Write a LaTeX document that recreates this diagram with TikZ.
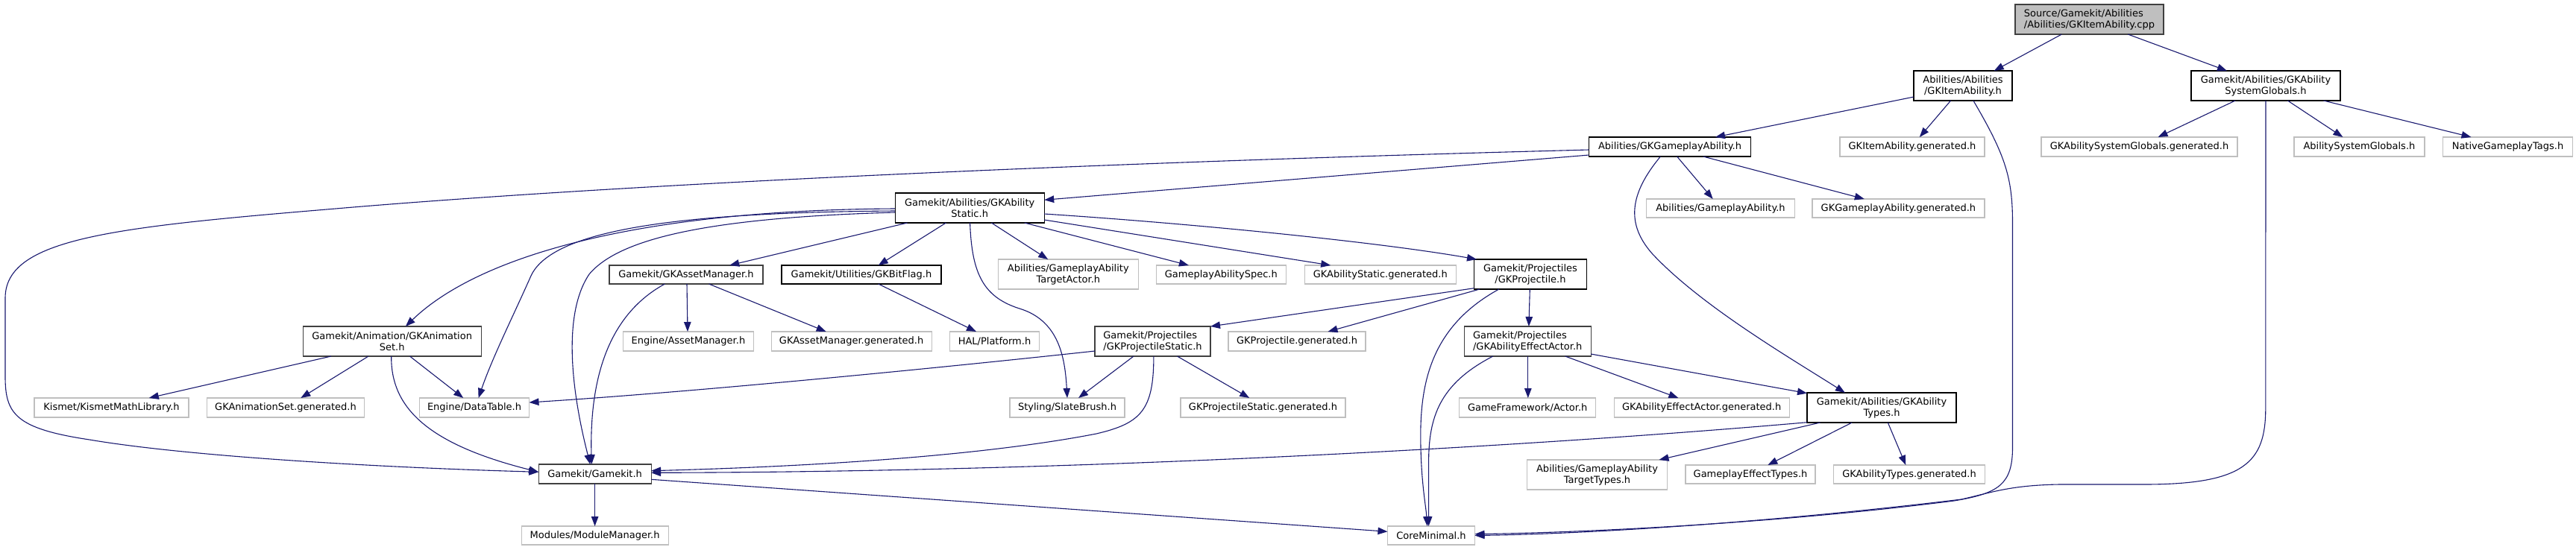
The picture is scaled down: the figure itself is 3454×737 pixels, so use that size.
\documentclass[tikz,border=0pt]{standalone}
\usepackage{fontspec}
\setmainfont{DejaVu Sans}
\usetikzlibrary{arrows.meta,calc}
\definecolor{edgeblue}{HTML}{191970}
\definecolor{extgray}{HTML}{BFBFBF}
\definecolor{docgray}{HTML}{404040}
\definecolor{rootfill}{HTML}{BFBFBF}
\tikzset{
  box/.style={rectangle, draw, line width=1.15pt, fill=white, inner sep=0pt, align=center, text=black,
    font=\fontsize{13pt}{15pt}\selectfont},
  doc/.style={box, draw=black},
  docg/.style={box, draw=docgray},
  ext/.style={box, draw=extgray},
  rootbox/.style={box, draw=docgray, fill=rootfill},
  one/.style={minimum height=26pt},
  two/.style={minimum height=40pt},
  e/.style={draw=edgeblue, line width=1.1pt, -{Triangle[length=13pt,width=9.5pt]}}
}
\begin{document}
\begin{tikzpicture}[x=1pt,y=-1pt]
\useasboundingbox (0,0) rectangle (3454,737);
\fill[white] (0,0) rectangle (3454,737);

% nodes
\node[rootbox, two, minimum width=199pt, align=left] (src) at (2801.5,26) {Source/Gamekit/Abilities\\/Abilities/GKItemAbility.cpp};
\node[doc, two, minimum width=132pt] (item) at (2632,115) {Abilities/Abilities\\/GKItemAbility.h};
\node[doc, two, minimum width=200pt] (sysg) at (3038,115) {Gamekit/Abilities/GKAbility\\SystemGlobals.h};
\node[doc, one, minimum width=217pt] (gpa) at (2239,197) {Abilities/GKGameplayAbility.h};
\node[ext, one, minimum width=194pt] (itemgen) at (2564,197) {GKItemAbility.generated.h};
\node[ext, one, minimum width=263pt] (sysggen) at (2868.5,197) {GKAbilitySystemGlobals.generated.h};
\node[ext, one, minimum width=175pt] (asg) at (3163.4,197) {AbilitySystemGlobals.h};
\node[ext, one, minimum width=174pt] (ngt) at (3362.5,197) {NativeGameplayTags.h};
\node[doc, two, minimum width=200pt] (stat) at (1300.2,279) {Gamekit/Abilities/GKAbility\\Static.h};
\node[ext, minimum height=25pt, minimum width=199pt] (ga) at (2307,279.5) {Abilities/GameplayAbility.h};
\node[ext, minimum height=25pt, minimum width=231pt] (gpagen) at (2545.4,279.5) {GKGameplayAbility.generated.h};
\node[docg, minimum height=25pt, minimum width=206pt] (am) at (920,368.5) {Gamekit/GKAssetManager.h};
\node[doc, minimum height=25pt, minimum width=214pt] (bit) at (1155,368.5) {Gamekit/Utilities/GKBitFlag.h};
\node[ext, two, minimum width=188pt] (ta) at (1432.3,368) {Abilities/GameplayAbility\\TargetActor.h};
\node[ext, minimum height=25pt, minimum width=174pt] (spec) at (1637.3,368.5) {GameplayAbilitySpec.h};
\node[ext, minimum height=25pt, minimum width=203pt] (statgen) at (1850.8,368.5) {GKAbilityStatic.generated.h};
\node[doc, two, minimum width=151pt] (proj) at (2052,368) {Gamekit/Projectiles\\/GKProjectile.h};
\node[docg, two, minimum width=239pt] (anim) at (525.7,458) {Gamekit/Animation/GKAnimation\\Set.h};
\node[ext, one, minimum width=175pt] (eam) at (922.9,458) {Engine/AssetManager.h};
\node[ext, one, minimum width=215pt] (amgen) at (1141.6,458) {GKAssetManager.generated.h};
\node[ext, one, minimum width=120pt] (hal) at (1333.5,458) {HAL/Platform.h};
\node[docg, two, minimum width=155pt, align=left] (pstat) at (1545.5,458) {Gamekit/Projectiles\\/GKProjectileStatic.h};
\node[ext, one, minimum width=184pt] (projgen) at (1739,458) {GKProjectile.generated.h};
\node[docg, two, minimum width=170pt, align=left] (eff) at (2048.2,458) {Gamekit/Projectiles\\/GKAbilityEffectActor.h};
\node[ext, one, minimum width=207pt] (kis) at (149.5,547) {Kismet/KismetMathLibrary.h};
\node[ext, one, minimum width=211pt] (animgen) at (383,547) {GKAnimationSet.generated.h};
\node[ext, one, minimum width=147pt] (dt) at (636,547) {Engine/DataTable.h};
\node[ext, one, minimum width=154pt] (sb) at (1431,547) {Styling/SlateBrush.h};
\node[ext, one, minimum width=221pt] (pstatgen) at (1693.5,547) {GKProjectileStatic.generated.h};
\node[ext, one, minimum width=183pt] (act) at (2048.2,547) {GameFramework/Actor.h};
\node[ext, one, minimum width=235pt] (effgen) at (2281.7,547) {GKAbilityEffectActor.generated.h};
\node[doc, two, minimum width=200pt] (types) at (2523,547) {Gamekit/Abilities/GKAbility\\Types.h};
\node[docg, one, minimum width=151pt] (gk) at (797.6,636) {Gamekit/Gamekit.h};
\node[ext, two, minimum width=188pt] (tt) at (2141.5,637) {Abilities/GameplayAbility\\TargetTypes.h};
\node[ext, minimum height=25pt, minimum width=174pt] (get) at (2347,636.5) {GameplayEffectTypes.h};
\node[ext, minimum height=25pt, minimum width=203pt] (typesgen) at (2560,636.5) {GKAbilityTypes.generated.h};
\node[ext, minimum height=25pt, minimum width=197pt] (mm) at (797.6,718.5) {Modules/ModuleManager.h};
\node[ext, minimum height=25pt, minimum width=117pt] (core) at (1919,718.5) {CoreMinimal.h};

% edges from root
\draw[e] ($(src)+(-37.1,20)$) -- ($(item)+(41.7,-20)$);
\draw[e] ($(src)+(51.7,20)$) -- ($(sysg)+(-52,-20)$);

% GKItemAbility.h
\draw[e] ($(item)+(-66,15)$) -- ($(gpa)+(61,-13)$);
\draw[e] ($(item)+(-16.4,20)$) -- ($(itemgen)+(9.8,-13)$);
\draw[e] ($(item)+(13.9,20)$) .. controls (2690,210) and (2698.5,240) .. (2698.5,300) -- (2698.5,600)
  .. controls (2698.5,650) and (2680,662) .. (2620,672)
  .. controls (2400,700) and (2150,714) .. ($(core)+(58.5,-1.8)$);

% SystemGlobals
\draw[e] ($(sysg)+(0,20)$) -- (3037.8,548) .. controls (3037.8,620) and (3010,650) .. (2875,650) -- (2762,650)
  .. controls (2695,651) and (2670,661) .. (2630,670)
  .. controls (2400,698) and (2150,716) .. ($(core)+(58.5,0)$);
\draw[e] ($(sysg)+(-40.9,20)$) -- ($(sysggen)+(25,-13)$);
\draw[e] ($(sysg)+(29.4,20)$) -- ($(asg)+(-22,-13)$);
\draw[e] ($(sysg)+(77.5,20)$) -- ($(ngt)+(-49,-13)$);

% GKGameplayAbility.h
\draw[e] ($(gpa)+(-108.5,4)$) .. controls (1400,220) and (800,250) .. (450,280)
  .. controls (150,305) and (7,320) .. (7,400) -- (7,505)
  .. controls (7,555) and (20,575) .. (120,590)
  .. controls (250,612) and (500,627) .. ($(gk)+(-75.5,-2.7)$);
\draw[e] ($(gpa)+(-108.5,11)$) -- ($(stat)+(100,-10.7)$);
\draw[e] ($(gpa)+(9.6,13)$) -- ($(ga)+(-10.3,-12.5)$);
\draw[e] ($(gpa)+(44.7,13)$) -- ($(gpagen)+(-45.6,-12.5)$);
\draw[e] ($(gpa)+(-12.6,13)$) .. controls (2185,260) and (2180,300) .. (2215,340)
  .. controls (2280,410) and (2400,480) .. ($(types)+(-49.1,-20)$);

% GKAbilityStatic.h
\draw[e] ($(stat)+(-100,1)$) .. controls (850,282) and (640,345) .. ($(anim)+(18.1,-20)$);
\draw[e] ($(stat)+(-100,4)$) .. controls (900,285) and (740,310) .. (712,370)
  .. controls (690,420) and (660,480) .. ($(dt)+(5.6,-13)$);
\draw[e] ($(stat)+(-100,6)$) .. controls (950,292) and (830,320) .. (790,368)
  .. controls (755,420) and (765,520) .. ($(gk)+(-6.2,-13)$);
\draw[e] ($(stat)+(-83.6,20)$) -- ($(am)+(58.2,-12.5)$);
\draw[e] ($(stat)+(-31.8,20)$) -- ($(bit)+(22.7,-12.5)$);
\draw[e] ($(stat)+(0.4,20)$) .. controls (1303,370) and (1320,400) .. (1370,415)
  .. controls (1420,432) and (1428,480) .. ($(sb)+(0,-13)$);
\draw[e] ($(stat)+(29.2,20)$) -- ($(ta)+(-27.1,-20)$);
\draw[e] ($(stat)+(73.6,20)$) -- ($(spec)+(-43.4,-12.5)$);
\draw[e] ($(stat)+(100,16)$) -- ($(statgen)+(-66.6,-12.5)$);
\draw[e] ($(stat)+(100,8)$) .. controls (1600,300) and (1850,325) .. ($(proj)+(-72,-20)$);

% GKAssetManager.h
\draw[e] ($(am)+(-28.6,12.5)$) .. controls (820,420) and (790,500) .. ($(gk)+(-4.3,-13)$);
\draw[e] ($(am)+(1,12.5)$) -- ($(eam)+(-0.9,-13)$);
\draw[e] ($(am)+(30.5,12.5)$) -- ($(amgen)+(-33.9,-13)$);

% GKBitFlag.h
\draw[e] ($(bit)+(22.7,12.5)$) -- ($(hal)+(-24.5,-13)$);

% GKAnimationSet.h
\draw[e] ($(anim)+(-81.7,20)$) -- ($(kis)+(50.3,-13)$);
\draw[e] ($(anim)+(-31.7,20)$) -- ($(animgen)+(20.3,-13)$);
\draw[e] ($(anim)+(23.8,20)$) -- ($(dt)+(-14.8,-13)$);
\draw[e] ($(anim)+(-1,20)$) .. controls (524,545) and (570,595) .. ($(gk)+(-75.5,-2.7)$);

% GKProjectile.h
\draw[e] ($(proj)+(-75.5,18.7)$) -- ($(pstat)+(77.5,-20)$);
\draw[e] ($(proj)+(-68,20)$) -- ($(projgen)+(41.5,-13)$);
\draw[e] ($(proj)+(-42.1,20)$) .. controls (1915,440) and (1903,520) .. (1905,600)
  .. controls (1906,650) and (1912,680) .. ($(core)+(-5.3,-12.5)$);
\draw[e] ($(proj)+(-0.7,20)$) -- ($(eff)+(1.7,-20)$);

% GKProjectileStatic.h
\draw[e] ($(pstat)+(-77.3,13)$) .. controls (1200,500) and (900,528) .. ($(dt)+(73.5,-7)$);
\draw[e] ($(pstat)+(-25.5,20)$) -- ($(sb)+(15,-13)$);
\draw[e] ($(pstat)+(33,20)$) -- ($(pstatgen)+(-18.2,-13)$);
\draw[e] ($(pstat)+(1.4,20)$) .. controls (1547,550) and (1530,568) .. (1470,582)
  .. controls (1300,615) and (1050,627) .. ($(gk)+(75.5,-4.3)$);

% GKAbilityEffectActor.h
\draw[e] ($(eff)+(-46.4,20)$) .. controls (1930,515) and (1915.6,560) .. (1915.6,620) -- ($(core)+(-3.4,-12.5)$);
\draw[e] ($(eff)+(0.6,20)$) -- ($(act)+(0.6,-13)$);
\draw[e] ($(eff)+(50.5,20)$) -- ($(effgen)+(-31.3,-13)$);
\draw[e] ($(eff)+(85,17)$) -- ($(types)+(-100,-19.3)$);

% GKAbilityTypes.h
\draw[e] ($(types)+(-100,19.7)$) .. controls (2100,595) and (1500,633) .. ($(gk)+(75.5,-1.7)$);
\draw[e] ($(types)+(-82.4,20)$) -- ($(tt)+(83,-20)$);
\draw[e] ($(types)+(-39.8,20)$) -- ($(get)+(23.3,-12.5)$);
\draw[e] ($(types)+(8.3,20)$) -- ($(typesgen)+(-4.7,-12.5)$);

% Gamekit.h
\draw[e] ($(gk)+(0,13)$) -- ($(mm)+(0,-12.5)$);
\draw[e] ($(gk)+(75.5,7.3)$) -- ($(core)+(-58.5,-5.2)$);
\end{tikzpicture}
\end{document}
